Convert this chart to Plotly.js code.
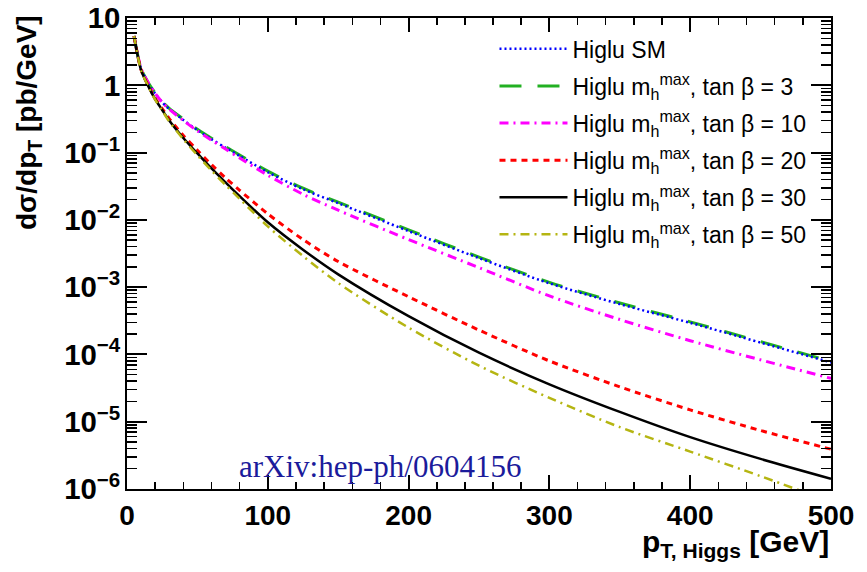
<!DOCTYPE html>
<html>
<head>
<meta charset="utf-8">
<script src="https://cdn.plot.ly/plotly-3.0.1.min.js"></script>
<style>html,body{margin:0;padding:0;background:#fff;}#chart{width:867px;height:572px;}</style>
</head>
<body>
<div id="chart"></div>
<script>
// p_T of the Higgs [GeV]
const pt = [5, 10, 15, 20, 25, 30, 40, 50, 60, 70, 80, 100, 125, 150, 200, 250, 300, 350, 400, 450, 500];
// dsigma/dpT [pb/GeV]
const higluSM = [5.4, 1.75, 1.08, 0.75, 0.56, 0.445, 0.305, 0.215, 0.158, 0.118, 0.089, 0.051, 0.0285, 0.0177, 0.0068, 0.0027, 0.00114, 5.6e-4, 2.95e-4, 1.5e-4, 7.6e-5];
const tanb3 = [5.4, 1.77, 1.10, 0.77, 0.57, 0.455, 0.315, 0.222, 0.163, 0.122, 0.092, 0.053, 0.0295, 0.0183, 0.0071, 0.0028, 0.00118, 5.8e-4, 3.05e-4, 1.55e-4, 7.9e-5];
const tanb10 = [5.4, 1.77, 1.10, 0.76, 0.56, 0.44, 0.30, 0.21, 0.153, 0.113, 0.083, 0.046, 0.024, 0.0139, 0.0051, 0.00195, 7.4e-4, 3.3e-4, 1.6e-4, 8.3e-5, 4.4e-5];
const tanb20 = [5.4, 1.70, 1.00, 0.64, 0.45, 0.32, 0.18, 0.108, 0.066, 0.042, 0.0275, 0.0123, 0.0051, 0.0024, 7.2e-4, 2.3e-4, 8.0e-5, 3.3e-5, 1.5e-5, 7.4e-6, 3.9e-6];
const tanb30 = [5.4, 1.68, 0.98, 0.62, 0.43, 0.30, 0.165, 0.097, 0.058, 0.036, 0.0225, 0.0092, 0.0036, 0.00155, 3.7e-4, 1.06e-4, 3.6e-5, 1.4e-5, 5.9e-6, 2.8e-6, 1.42e-6];
const tanb50 = [5.4, 1.67, 0.97, 0.61, 0.42, 0.29, 0.158, 0.091, 0.054, 0.033, 0.0205, 0.0080, 0.0029, 0.00115, 2.5e-4, 6.8e-5, 2.26e-5, 8.3e-6, 3.6e-6, 1.55e-6, 6.4e-7];

const mh = 'Higlu m<sub>h</sub><sup>max</sup>, tan \u03b2 = ';
const series = [
  {name: mh + '3', y: tanb3, color: '#22b022', dash: '22px,16px', width: 3, rank: 2},
  {name: 'Higlu SM', y: higluSM, color: '#0000ff', dash: '2px,3px', width: 2.5, rank: 1},
  {name: mh + '10', y: tanb10, color: '#ff00ff', dash: '9px,5px,2px,5px', width: 3, rank: 3},
  {name: mh + '20', y: tanb20, color: '#ff0000', dash: '6px,5px', width: 3, rank: 4},
  {name: mh + '30', y: tanb30, color: '#000000', dash: 'solid', width: 2.5, rank: 5},
  {name: mh + '50', y: tanb50, color: '#b5b512', dash: '9px,5px,2px,5px', width: 2.5, rank: 6}
];

const traces = series.map((s, i) => ({
  x: pt, y: s.y, type: 'scatter', mode: 'lines', name: s.name,
  legendrank: s.rank, legendgroup: 'g' + i,
  line: {color: s.color, dash: s.dash, width: s.width, shape: 'spline', smoothing: 0.8}
}));

const boldFont = {family: 'Liberation Sans, Arial, sans-serif', size: 28, weight: 'bold', color: '#000'};
const axisCommon = {
  showline: true, linecolor: '#000', linewidth: 2, mirror: 'allticks',
  ticks: 'inside', tickcolor: '#000', showgrid: false, zeroline: false,
  tickfont: boldFont
};

const layout = {
  width: 867, height: 572,
  margin: {l: 127, r: 36, t: 18, b: 83},
  paper_bgcolor: '#fff', plot_bgcolor: '#fff',
  font: {family: 'Liberation Sans, Arial, sans-serif', color: '#000'},
  showlegend: true,
  legend: {
    x: 0.522, y: 0.98, xanchor: 'left', yanchor: 'top', itemwidth: 68,
    bgcolor: 'rgba(0,0,0,0)', borderwidth: 0, tracegroupgap: 4.2,
    font: {family: 'Liberation Sans, Arial, sans-serif', size: 23, color: '#000'}
  },
  xaxis: Object.assign({}, axisCommon, {
    range: [0, 500], tick0: 0, dtick: 100, ticklen: 14, tickwidth: 2,
    minor: {dtick: 20, ticklen: 7, tickwidth: 1.5, ticks: 'inside', tickcolor: '#000'}
  }),
  yaxis: Object.assign({}, axisCommon, {
    type: 'log', range: [-6, 1], dtick: 1, exponentformat: 'power',
    ticklen: 20, tickwidth: 2,
    tickfont: {family: 'Liberation Sans, Arial, sans-serif', size: 23.5, weight: 'bold', color: '#000'},
    minor: {dtick: 'D1', ticklen: 10, tickwidth: 1.5, ticks: 'inside', tickcolor: '#000'}
  }),
  annotations: [
    {text: 'arXiv:hep-ph/0604156', xref: 'paper', yref: 'paper', x: 0.359, y: 0.047,
     xanchor: 'center', yanchor: 'middle', showarrow: false,
     font: {family: 'Liberation Serif, Times New Roman, serif', size: 31, color: '#1b1b9b'}},
    {text: 'd\u03c3/dp<sub>T</sub> [pb/GeV]', xref: 'paper', yref: 'paper', x: -0.14, y: 0.778,
     xanchor: 'center', yanchor: 'middle', textangle: -90, showarrow: false,
     font: {family: 'Liberation Sans, Arial, sans-serif', size: 28, weight: 'bold', color: '#000'}},
    {text: 'p<sub>T, Higgs</sub> [GeV]', xref: 'paper', yref: 'paper', x: 1.0, y: -0.072,
     xanchor: 'right', yanchor: 'top', showarrow: false,
     font: {family: 'Liberation Sans, Arial, sans-serif', size: 30, weight: 'bold', color: '#000'}}
  ]
};

Plotly.newPlot('chart', traces, layout, {displayModeBar: false, staticPlot: true});
</script>
</body>
</html>
